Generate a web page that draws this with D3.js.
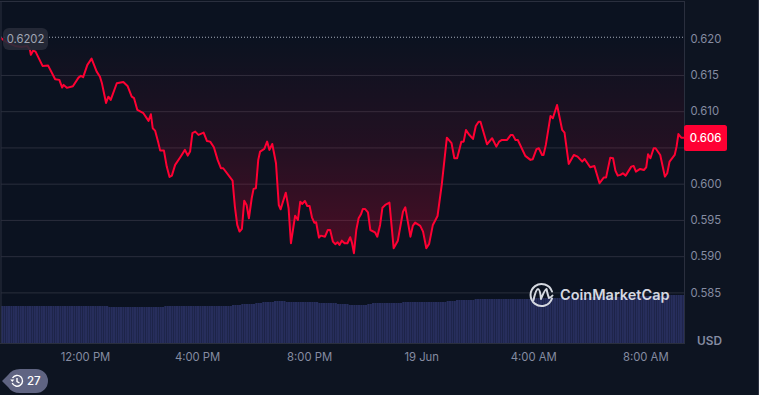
<!DOCTYPE html>
<html>
<head>
<meta charset="utf-8">
<script src="https://cdn.jsdelivr.net/npm/d3@7"></script>
<style>
	html, body { margin: 0; padding: 0; background: #0d1421; overflow: hidden; }
	svg { display: block; font-family: Inter, sans-serif; }
	.axis text { fill: #858ca2; font-size: 11.3px; font-family: Inter, sans-serif; }
	.axis .domain { display: none; }
	.grid line { stroke: #2a2e3c; stroke-width: 1; }
	.grid .domain { display: none; }
	.grid text { display: none; }
</style>
</head>
<body>
<svg id="chart" width="759" height="395"></svg>
<script>
// minutes since 9:00 AM
const minutes = [
	0, 6, 15, 30, 45, 56, 62, 64, 69, 74,
	89, 101, 116, 125, 131, 134, 141, 154, 166, 171,
	176, 185, 194, 205, 212, 216, 225, 230, 235, 248,
	262, 271, 280, 285, 292, 305, 316, 321, 325, 330,
	337, 341, 349, 355, 361, 366, 373, 384, 394, 400,
	405, 410, 416, 423, 434, 441, 448, 456, 464, 471,
	476, 496, 501, 506, 511, 516, 521, 526, 531, 537,
	541, 546, 551, 555, 564, 570, 575, 581, 589, 595,
	599, 610, 616, 621, 630, 636, 641, 645, 651, 656,
	661, 666, 671, 675, 681, 685, 694, 700, 705, 711,
	716, 721, 725, 730, 736, 742, 748, 752, 756, 761,
	766, 771, 775, 780, 786, 791, 801, 806, 812, 817,
	823, 832, 841, 850, 861, 866, 877, 882, 887, 898,
	904, 911, 917, 925, 935, 944, 955, 965, 971, 977,
	986, 991, 996, 1002, 1011, 1017, 1023, 1027, 1041, 1052,
	1061, 1067, 1073, 1084, 1092, 1096, 1102, 1107, 1123, 1134,
	1139, 1147, 1152, 1159, 1162, 1167, 1177, 1182, 1191, 1202,
	1207, 1216, 1227, 1235, 1245, 1250, 1262, 1271, 1282, 1291,
	1296, 1305, 1311, 1316, 1321, 1327, 1332, 1338, 1350, 1355,
	1360, 1369, 1377, 1382, 1386, 1391, 1398, 1402, 1412, 1422,
	1427, 1432, 1443, 1447, 1451, 1457, 1464
];
const prices = [
	.62010, .61978, .61942, .61900, .61887, .61900, .61845, .61777, .61836, .61822,
	.61625, .61629, .61441, .61432, .61326, .61363, .61322, .61345, .61463, .61487,
	.61469, .61639, .61725, .61546, .61475, .61390, .61114, .61200, .61155, .61385,
	.61403, .61348, .61200, .61179, .61017, .60972, .60866, .60958, .60765, .60732,
	.60563, .60456, .60456, .60236, .60093, .60111, .60259, .60365, .60466, .60387,
	.60443, .60696, .60718, .60673, .60704, .60590, .60580, .60503, .60328, .60213,
	.60213, .60042, .59680, .59431, .59339, .59376, .59766, .59706, .59523, .59799,
	.59928, .59937, .60328, .60443, .60480, .60580, .60466, .60548, .60282, .59706,
	.59647, .59876, .59661, .59178, .59558, .59499, .59751, .59720, .59761, .59692,
	.59692, .59536, .59462, .59468, .59255, .59283, .59269, .59361, .59361, .59200,
	.59165, .59192, .59155, .59214, .59178, .59178, .59261, .59178, .59040, .59361,
	.59523, .59577, .59650, .59650, .59605, .59361, .59329, .59269, .59431, .59669,
	.59706, .59738, .59110, .59214, .59613, .59674, .59269, .59417, .59462, .59417,
	.59338, .59110, .59169, .59431, .59554, .59983, .60635, .60558, .60351, .60351,
	.60580, .60580, .60741, .60682, .60617, .60796, .60855, .60855, .60544, .60627,
	.60511, .60580, .60603, .60603, .60673, .60673, .60603, .60603, .60383, .60328,
	.60338, .60476, .60489, .60396, .60396, .60535, .60935, .60903, .61086, .60741,
	.60704, .60273, .60396, .60373, .60304, .60341, .60226, .60244, .60006, .60084,
	.60084, .60359, .60351, .60180, .60111, .60121, .60144, .60111, .60235, .60244,
	.60166, .60203, .60189, .60226, .60406, .60351, .60489, .60489, .60396, .60097,
	.60144, .60304, .60396, .60511, .60685, .60635, .60635
];
// one bar per 5 minutes, one row per hour
const volumes = [
	37, 37, 37, 37, 37, 37, 37, 37, 37, 37, 37, 37,
	37, 37, 37, 37, 37, 37, 37, 37, 37, 37, 37, 37,
	37, 37, 37, 37, 37, 37, 37, 37, 37, 37, 37, 37,
	37, 37, 37, 37, 37, 37, 37, 37, 37, 37, 36, 36,
	36, 36, 36, 36, 36, 36, 36, 36, 36, 36, 36, 36,
	36, 36, 36, 36, 36, 36, 36, 36, 36, 36, 37, 37,
	37, 37, 37, 37, 37, 37, 37, 37, 37, 37, 37, 37,
	37, 37, 37, 37, 37, 37, 37, 37, 37, 37, 37, 37,
	37, 37, 37, 38, 38, 38, 38, 39, 39, 39, 39, 39,
	39, 40, 40, 40, 41, 41, 41, 41, 41, 42, 42, 42,
	42, 42, 41, 41, 41, 41, 41, 41, 41, 41, 41, 41,
	41, 41, 41, 41, 40, 40, 40, 40, 40, 40, 40, 40,
	39, 39, 39, 39, 39, 38, 38, 38, 38, 38, 38, 38,
	38, 39, 39, 40, 40, 40, 40, 40, 40, 40, 40, 40,
	40, 40, 40, 40, 41, 41, 41, 41, 41, 41, 41, 41,
	41, 41, 41, 41, 41, 41, 41, 41, 41, 41, 41, 42,
	42, 42, 42, 43, 43, 43, 43, 43, 43, 43, 43, 44,
	44, 44, 44, 44, 44, 44, 44, 44, 44, 44, 44, 44,
	44, 44, 44, 44, 44, 44, 44, 44, 44, 44, 44, 45,
	45, 45, 45, 45, 45, 45, 45, 45, 45, 45, 45, 45,
	45, 45, 45, 45, 45, 45, 45, 45, 45, 45, 45, 45,
	46, 46, 46, 46, 46, 46, 46, 46, 46, 46, 46, 46,
	46, 46, 46, 46, 46, 46, 46, 46, 46, 46, 47, 47,
	47, 47, 47, 47, 47, 47, 47, 47, 47, 48, 48, 48,
	48, 48, 48, 48, 48
];
const priceTicks = [0.620, 0.615, 0.610, 0.605, 0.600, 0.595, 0.590, 0.585];
const priceLabels = ["0.620", "0.615", "0.610", "", "0.600", "0.595", "0.590", "0.585"];
const gridTicks = [0.615, 0.610, 0.605, 0.600, 0.595, 0.590, 0.585];
const timeTicks = [180, 420, 660, 900, 1140, 1380];
const timeLabels = ["12:00 PM", "4:00 PM", "8:00 PM", "19 Jun", "4:00 AM", "8:00 AM"];
const openPrice = 0.6202;
const lastPrice = 0.606;

var svg = d3.select("#chart");
var defs = svg.append("defs");

var left = 1, right = 684.5, volBottom = 343;

var xScale = d3.scaleLinear().domain([0, 1464]).range([left, right]);
var yScale = d3.scaleLinear().domain([0.585, 0.620]).range([292.4, 38.7]);
var volScale = d3.scaleLinear().domain([0, 48]).range([volBottom, volBottom - 48]);
var volBand = d3.scaleBand().domain(d3.range(volumes.length)).range([left, right]).paddingInner(0.06);

var points = minutes.map((m, i) => [m, prices[i]]);

defs.append("clipPath").attr("id", "plot-clip")
	.append("rect")
	.attr("x", left).attr("y", 1)
	.attr("width", right - left).attr("height", volBottom);

let grad = defs.append("linearGradient")
	.attr("id", "area-grad")
	.attr("gradientUnits", "userSpaceOnUse")
	.attr("x1", 0).attr("x2", 0)
	.attr("y1", yScale(openPrice)).attr("y2", yScale(0.590));
grad.append("stop").attr("offset", 0).attr("stop-color", "#ff0033").attr("stop-opacity", 0);
grad.append("stop").attr("offset", 0.5).attr("stop-color", "#ff0033").attr("stop-opacity", 0.1);
grad.append("stop").attr("offset", 1).attr("stop-color", "#ff0033").attr("stop-opacity", 0.26);

// plot background and frame
svg.append("rect")
	.attr("x", left).attr("y", 1)
	.attr("width", right - left).attr("height", volBottom)
	.attr("fill", "#0b1220");

// grid
svg.append("g")
	.attr("class", "grid")
	.attr("transform", `translate(${right},0)`)
	.call(d3.axisLeft(yScale).tickValues(gridTicks).tickSize(right - left));

// volume bars
svg.append("g")
	.selectAll("rect")
	.data(volumes)
	.enter().append("rect")
	.attr("x", (d, i) => volBand(i))
	.attr("y", d => volScale(d))
	.attr("width", volBand.bandwidth())
	.attr("height", d => volBottom - volScale(d))
	.attr("fill", "#272e5c");

var plot = svg.append("g").attr("clip-path", "url(#plot-clip)");

// fill between the line and the open price
plot.append("path")
	.datum(points)
	.attr("fill", "url(#area-grad)")
	.attr("d", d3.area()
		.x(d => xScale(d[0]))
		.y0(yScale(openPrice))
		.y1(d => yScale(d[1])));

// open price dotted line
plot.append("line")
	.attr("x1", left).attr("x2", right)
	.attr("y1", yScale(openPrice)).attr("y2", yScale(openPrice))
	.attr("stroke", "#a7adbb")
	.attr("stroke-width", 1)
	.attr("stroke-dasharray", "1 2");

plot.append("path")
	.datum(points)
	.attr("fill", "none")
	.attr("stroke", "#ff0033")
	.attr("stroke-width", 2)
	.attr("stroke-linejoin", "round")
	.attr("d", d3.line().x(d => xScale(d[0])).y(d => yScale(d[1])));

// frame lines
var frame = svg.append("g").attr("stroke", "#2a2f3e").attr("stroke-width", 1);
frame.append("line").attr("x1", 0).attr("x2", right).attr("y1", 1.5).attr("y2", 1.5);
frame.append("line").attr("x1", 1).attr("x2", 1).attr("y1", 1).attr("y2", 344);
frame.append("line").attr("x1", right).attr("x2", right).attr("y1", 1).attr("y2", 344);
frame.append("line").attr("x1", 0).attr("x2", right).attr("y1", 343.5).attr("y2", 343.5);
frame.append("line").attr("x1", 758.5).attr("x2", 758.5).attr("y1", 0).attr("y2", 395);

// price axis
svg.append("g")
	.attr("class", "axis")
	.attr("transform", `translate(${right},0)`)
	.call(d3.axisRight(yScale)
		.tickValues(priceTicks)
		.tickSize(0)
		.tickPadding(6)
		.tickFormat((d, i) => priceLabels[i]));

// time axis
svg.append("g")
	.attr("class", "axis")
	.attr("transform", "translate(0,344)")
	.call(d3.axisBottom(xScale)
		.tickValues(timeTicks)
		.tickSize(0)
		.tickPadding(9)
		.tickFormat((d, i) => timeLabels[i]));

svg.append("text")
	.attr("x", 709.5).attr("y", 345)
	.attr("text-anchor", "middle")
	.attr("fill", "#858ca2")
	.attr("font-size", 11.8)
	.attr("font-weight", 600)
	.text("USD");

// last price badge
svg.append("rect")
	.attr("x", 684).attr("y", 125)
	.attr("width", 43).attr("height", 26)
	.attr("rx", 2.5)
	.attr("fill", "#ff0033");
svg.append("text")
	.attr("x", 705.5).attr("y", 138)
	.attr("dy", "0.36em")
	.attr("text-anchor", "middle")
	.attr("fill", "#ffffff")
	.attr("font-size", 11.3)
	.attr("font-weight", 500)
	.text(lastPrice.toFixed(3));

// open price label
svg.append("rect")
	.attr("x", 3).attr("y", 28)
	.attr("width", 45).attr("height", 22)
	.attr("rx", 6)
	.attr("fill", "#272b38")
	.attr("fill-opacity", 0.9);
svg.append("text")
	.attr("x", 25.5).attr("y", 39)
	.attr("dy", "0.36em")
	.attr("text-anchor", "middle")
	.attr("fill", "#a1a7b5")
	.attr("font-size", 11.3)
	.text(openPrice.toFixed(4));

// watermark
var logo = svg.append("g")
	.attr("fill", "none")
	.attr("stroke", "#d5d8e0")
	.attr("stroke-width", 2)
	.attr("stroke-linecap", "round")
	.attr("stroke-linejoin", "round");
logo.append("path").attr("d", "M552 298.5A11 11 0 1 1 552 291.5");
logo.append("path").attr("d", "M533.5 300Q536 289 538 289Q540 289 541 299Q545 289 546.5 289Q548 296 549 298Q550.5 298 552.5 295.5");
svg.append("text")
	.attr("x", 560).attr("y", 295)
	.attr("dy", "0.36em")
	.attr("fill", "#d5d8e0")
	.attr("font-size", 14.5)
	.attr("font-weight", 600)
	.text("CoinMarketCap");

// notes pill
svg.append("path")
	.attr("d", "M2 381L8 375Q12 369 20 369L36 369A12 12 0 0 1 36 393L20 393Q12 393 8 387Z")
	.attr("fill", "#5f6482");
var clock = svg.append("g")
	.attr("fill", "none")
	.attr("stroke", "#ffffff")
	.attr("stroke-width", 1.4);
clock.append("path").attr("d", "M12.5 378A5.4 5.4 0 1 1 12.2 383");
clock.append("path").attr("d", "M17 378V381.5L19.5 383");
svg.append("path").attr("d", "M10.3 379.5H14.3L12.3 382Z").attr("fill", "#ffffff");
svg.append("text")
	.attr("x", 27).attr("y", 381)
	.attr("dy", "0.36em")
	.attr("fill", "#ffffff")
	.attr("font-size", 11.5)
	.attr("font-weight", 500)
	.text("27");
</script>
</body>
</html>
